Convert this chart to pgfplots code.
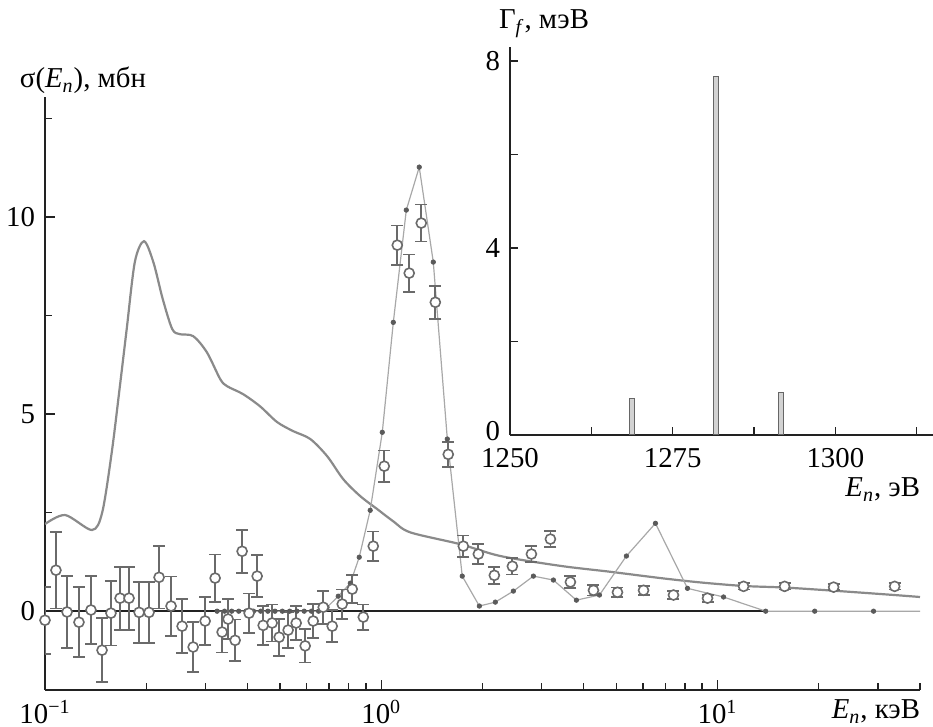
\documentclass[border=0pt]{standalone}
\usepackage{pgfplots}
\pgfplotsset{compat=1.18}
\usepackage{fontspec}
\setmainfont{Liberation Serif}
\definecolor{curvegray}{HTML}{8A8A8A}
\definecolor{ptgray}{HTML}{6A6A6A}
\definecolor{dotline}{HTML}{A8A8A8}
\definecolor{dotfill}{HTML}{5A5A5A}
\definecolor{axcol}{HTML}{222222}
\begin{document}
\fontsize{14.4}{17}\selectfont
\begin{tikzpicture}
\useasboundingbox (-22.5pt,-18.5pt) rectangle (444pt,345pt);
\begin{axis}[
  at={(0pt,0pt)}, anchor=south west,
  scale only axis, width=437.5pt, height=296.5pt,
  xmode=log, xmin=0.1, xmax=40, ymin=-2, ymax=13.05,
  axis lines=left, axis line style={-, line width=0.8pt, color=axcol},
  /pgf/number format/assume math mode=true,
  tick align=inside, tick style={axcol, line width=0.7pt},
  major tick length=5pt, minor tick length=3.5pt,
  xtick={0.1,1,10}, xticklabels={10\textsuperscript{−1},10\textsuperscript{0},10\textsuperscript{1}},
  minor xtick={0.2,0.3,0.4,0.5,0.6,0.7,0.8,0.9,2,3,4,5,6,7,8,9,20,30,40},
  ytick={0,5,10}, minor ytick={2.5,7.5,12.5},
  xlabel={\textit{E}\textsubscript{\textit{n}}, кэВ},
  ylabel={σ(\textit{E}\textsubscript{\textit{n}}), мбн},
  every axis x label/.style={at={(rel axis cs:1,0)}, anchor=base east, xshift=5pt, yshift=-14.5pt},
  every axis y label/.style={at={(rel axis cs:0,1)}, anchor=base west, xshift=-17.5pt, yshift=4.5pt},
]
% calculated curve
\addplot[curvegray, line width=1.1pt, smooth, tension=0.5] coordinates {
(0.1,2.21) (0.1148,2.44) (0.138,2.06) (0.148,2.51) (0.158,4.04) (0.167,5.71)
(0.175,7.16) (0.185,8.86) (0.197,9.39) (0.210,8.86) (0.224,7.92) (0.239,7.16)
(0.252,7.03) (0.276,6.98) (0.303,6.57) (0.332,5.89) (0.348,5.71) (0.388,5.51)
(0.436,5.20) (0.490,4.80) (0.547,4.57) (0.615,4.37) (0.691,3.93) (0.771,3.35)
(0.866,2.92) (0.973,2.59) (1.086,2.28) (1.220,2.00) (1.718,1.70) (2.26,1.40)
(3.41,1.15) (4.8,1.00) (6.77,0.84) (8.89,0.73) (11.95,0.64) (15.83,0.60)
(22.14,0.52) (33.6,0.41) (40,0.36)
};
% zero line
\addplot[axcol, line width=0.8pt] coordinates {(0.1,0) (13.9,0)};
% connected dots series (line)
\addplot[dotline, line width=0.6pt] coordinates {
(0.325,0) (0.651,0) (0.690,0.10) (0.745,0.38) (0.809,0.71) (0.860,1.37) (0.927,2.56)
(1.007,4.54) (1.086,7.33) (1.187,10.18) (1.297,11.27) (1.428,8.86) (1.572,4.37)
(1.741,0.89) (1.958,0.13) (2.184,0.23) (2.471,0.51) (2.834,0.89) (3.250,0.79)
(3.805,0.28) (4.454,0.41) (5.358,1.40) (6.537,2.23) (8.14,0.58) (10.42,0.36)
(13.9,0) (19.45,0) (29.1,0) (40,0)
};
% dots
\addplot[only marks, mark=*, mark size=1.1pt, mark options={fill=dotfill, draw=dotfill}] coordinates {
(0.325,0) (0.342,0) (0.359,0) (0.377,0) (0.396,0) (0.417,0) (0.438,0) (0.460,0)
(0.483,0) (0.508,0) (0.534,0) (0.561,0) (0.590,0) (0.620,0) (0.651,0)
(0.690,0.10) (0.745,0.38) (0.809,0.71) (0.860,1.37) (0.927,2.56)
(1.007,4.54) (1.086,7.33) (1.187,10.18) (1.297,11.27) (1.428,8.86) (1.572,4.37)
(1.741,0.89) (1.958,0.13) (2.184,0.23) (2.471,0.51) (2.834,0.89) (3.250,0.79)
(3.805,0.28) (4.454,0.41) (5.358,1.40) (6.537,2.23) (8.14,0.58) (10.42,0.36)
(13.9,0) (19.45,0) (29.1,0)
};
% experimental points
\addplot[only marks, mark=*, mark size=2.5pt, mark options={fill=white, draw=ptgray, line width=0.8pt},
  error bars/.cd, y dir=both, y explicit,
  error bar style={ptgray, line width=0.9pt},
  error mark options={rotate=90, mark size=3pt, ptgray, line width=0.9pt}]
  table[x=E, y=s, y error=e] {
E s e
0.1 -0.23 0.85
0.1078 1.04 0.97
0.1163 -0.02 0.92
0.1262 -0.28 0.89
0.1370 0.03 0.87
0.1478 -0.99 0.81
0.1571 -0.05 0.82
0.1672 0.33 0.80
0.1778 0.33 0.80
0.1905 -0.03 0.78
0.2039 -0.03 0.78
0.2184 0.86 0.79
0.2371 0.13 0.75
0.2557 -0.38 0.68
0.2758 -0.91 0.64
0.2994 -0.25 0.60
0.3206 0.84 0.60
0.3363 -0.53 0.52
0.3504 -0.20 0.50
0.3677 -0.74 0.53
0.3857 1.52 0.55
0.4046 -0.05 0.50
0.4275 0.89 0.53
0.4454 -0.36 0.50
0.4737 -0.30 0.47
0.4970 -0.66 0.47
0.5285 -0.48 0.45
0.5585 -0.30 0.44
0.5939 -0.88 0.42
0.6274 -0.25 0.43
0.6722 0.10 0.42
0.7147 -0.38 0.40
0.7655 0.18 0.37
0.8197 0.56 0.36
0.8842 -0.15 0.32
0.9467 1.65 0.37
1.0207 3.68 0.40
1.116 9.29 0.50
1.211 8.58 0.47
1.315 9.85 0.47
1.448 7.84 0.42
1.582 3.98 0.32
1.754 1.65 0.27
1.944 1.45 0.25
2.169 0.91 0.21
2.454 1.14 0.21
2.796 1.45 0.21
3.184 1.83 0.21
3.652 0.74 0.16
4.276 0.53 0.13
5.040 0.48 0.12
6.025 0.53 0.11
7.396 0.41 0.10
9.337 0.33 0.09
11.95 0.63 0.08
15.83 0.63 0.08
22.14 0.61 0.08
33.63 0.63 0.08
};
\end{axis}
% inset
\begin{axis}[
  at={(232.5pt,127.5pt)}, anchor=south west,
  scale only axis, width=211.5pt, height=194pt,
  xmin=1250, xmax=1315, ymin=0, ymax=8.3,
  axis lines=left, axis line style={-, line width=0.8pt, color=axcol},
  /pgf/number format/assume math mode=true,
  /pgf/number format/1000 sep={},
  tick align=inside, tick style={axcol, line width=0.7pt},
  major tick length=4pt, minor tick length=4pt,
  xtick={1250,1275,1300}, minor xtick={1262.5,1287.5,1312.5},
  ytick={0,4,8}, minor ytick={2,6},
  yticklabels={\raisebox{4pt}{0},4,8},
  xticklabel style={yshift=-1.5pt},
  xlabel={\textit{E}\textsubscript{\textit{n}}, эВ},
  ylabel={Γ\textsubscript{\textit{f}}, мэВ},
  every axis x label/.style={at={(rel axis cs:1,0)}, anchor=base east, xshift=-1.5pt, yshift=-31pt},
  every axis y label/.style={at={(rel axis cs:0,1)}, anchor=base west, xshift=-10.5pt, yshift=9pt},
]
\addplot[ybar, bar width=2.6pt, fill=gray!35, draw=gray!80!black, line width=0.5pt] coordinates {
(1268.8,0.79) (1281.7,7.66) (1291.7,0.90)
};
\end{axis}
\end{tikzpicture}
\end{document}
